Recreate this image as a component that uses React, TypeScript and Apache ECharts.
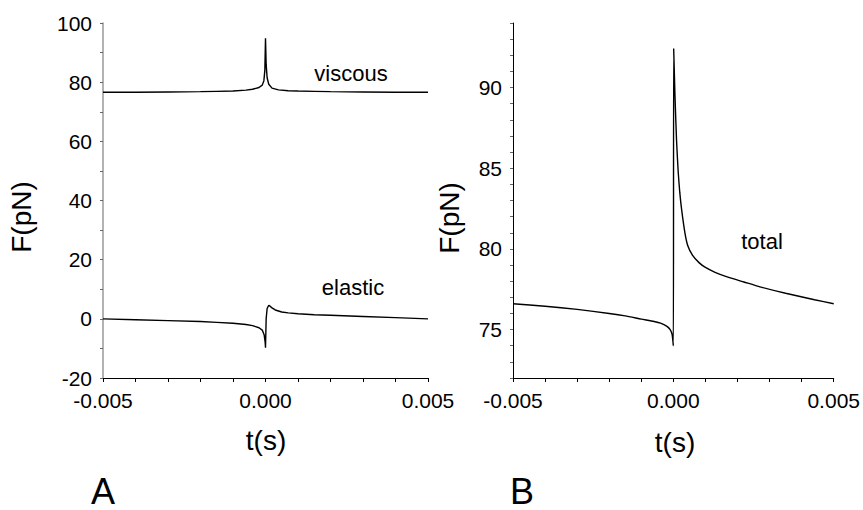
import React, { useEffect, useRef } from "react";
import * as echarts from "echarts";

// Panel A: viscous force
const viscousT = [-0.005, -0.004, -0.003, -0.002, -0.0015, -0.001, -0.0006, -0.0004, -0.0002, -0.0001, -0.00005, -0.00002, 0, 0.00002, 0.00005, 0.0001, 0.0002, 0.0004, 0.0007, 0.001, 0.0015, 0.002, 0.003, 0.004, 0.005];
const viscousF = [76.6, 76.6, 76.7, 76.8, 76.9, 77.0, 77.3, 77.6, 78.2, 79.0, 80.5, 84.0, 94.8, 86.0, 81.5, 79.3, 78.0, 77.4, 77.1, 77.0, 76.9, 76.8, 76.7, 76.6, 76.6];

// Panel A: elastic force
const elasticT = [-0.005, -0.004, -0.003, -0.002, -0.0015, -0.001, -0.0006, -0.0004, -0.0002, -0.0001, -0.00004, -0.00001, 0, 0.00002, 0.00005, 0.0001, 0.00015, 0.0002, 0.0003, 0.0005, 0.0007, 0.001, 0.0015, 0.002, 0.003, 0.004, 0.005];
const elasticF = [0, -0.3, -0.6, -0.9, -1.2, -1.5, -1.9, -2.3, -3.0, -3.8, -5.5, -8.0, -9.8, 0, 3.5, 4.6, 4.2, 3.7, 3.0, 2.3, 2.0, 1.7, 1.4, 1.2, 0.8, 0.4, 0.0];

// Panel B: total force
const totalT = [-0.005, -0.004, -0.003, -0.002, -0.0015, -0.001, -0.0006, -0.0004, -0.0002, -0.0001, -0.00004, 0, 0.00001, 0.00005, 0.0001, 0.00015, 0.0002, 0.00026, 0.00036, 0.00045, 0.0006, 0.0008, 0.001, 0.0013, 0.0017, 0.0022, 0.0027, 0.0035, 0.0044, 0.005];
const totalF = [76.6, 76.45, 76.25, 76.0, 75.85, 75.65, 75.5, 75.4, 75.2, 75.0, 74.7, 74.0, 92.4, 89.5, 86.7, 84.8, 83.5, 82.4, 81.0, 80.2, 79.6, 79.15, 78.85, 78.55, 78.25, 77.95, 77.65, 77.25, 76.85, 76.6];

const FONT = "'Liberation Sans', Arial, Helvetica, sans-serif";

const pairs = (t: number[], f: number[]) => t.map((x, i) => [x, f[i]]);

const xLabel = (v: number) => {
  const k = Math.round(v * 1000);
  if (k % 5 !== 0) return "";
  if (k === 0) return "0.000";
  return (k / 1000).toFixed(3);
};

export default function App() {
  const ref = useRef<HTMLDivElement>(null);
  useEffect(() => {
    if (!ref.current) return;
    const chart = echarts.init(ref.current, null, { renderer: "svg" });
    const xAxisBase = {
      type: "value",
      min: -0.005,
      max: 0.005,
      interval: 0.001,
      splitLine: { show: false },
      axisLine: { show: true, onZero: false, lineStyle: { color: "#000", width: 1 } },
      axisTick: { show: true, length: 4, lineStyle: { color: "#000" } },
      axisLabel: { color: "#000", fontSize: 21, fontFamily: FONT, margin: 12, formatter: xLabel },
    };
    const txt = (text: string, x: number, y: number, size: number, rot = 0) => ({
      type: "text",
      x,
      y,
      rotation: rot,
      style: { text, fontSize: size, fontFamily: FONT, fill: "#000", textAlign: "center", textVerticalAlign: "middle" },
    });
    chart.setOption({
      animation: false,
      backgroundColor: "#fff",
      grid: [
        { left: 103, right: 435, top: 23, bottom: 132 },
        { left: 513, right: 26, top: 23, bottom: 132 },
      ],
      xAxis: [
        { ...xAxisBase, gridIndex: 0 },
        { ...xAxisBase, gridIndex: 1 },
      ],
      yAxis: [
        {
          type: "value",
          gridIndex: 0,
          min: -20,
          max: 100,
          interval: 10,
          splitLine: { show: false },
          axisLine: { show: true, onZero: false, lineStyle: { color: "#999", width: 1.5 } },
          axisTick: { show: true, length: 3, lineStyle: { color: "#666" } },
          axisLabel: {
            color: "#000",
            fontSize: 21,
            fontFamily: FONT,
            margin: 11,
            formatter: (v: number) => (Math.round(v) % 20 === 0 ? String(Math.round(v)) : ""),
          },
        },
        {
          type: "value",
          gridIndex: 1,
          min: 72,
          max: 94,
          interval: 1,
          splitLine: { show: false },
          axisLine: { show: true, onZero: false, lineStyle: { color: "#000", width: 1 } },
          axisTick: { show: true, length: 3, lineStyle: { color: "#666" } },
          axisLabel: {
            color: "#000",
            fontSize: 21,
            fontFamily: FONT,
            margin: 11,
            formatter: (v: number) => (Math.round(v) % 5 === 0 ? String(Math.round(v)) : ""),
          },
        },
      ],
      series: [
        {
          name: "viscous",
          type: "line",
          xAxisIndex: 0,
          yAxisIndex: 0,
          data: pairs(viscousT, viscousF),
          showSymbol: false,
          lineStyle: { color: "#000", width: 1.4 },
        },
        {
          name: "elastic",
          type: "line",
          xAxisIndex: 0,
          yAxisIndex: 0,
          data: pairs(elasticT, elasticF),
          showSymbol: false,
          lineStyle: { color: "#000", width: 1.4 },
        },
        {
          name: "total",
          type: "line",
          xAxisIndex: 1,
          yAxisIndex: 1,
          data: pairs(totalT, totalF),
          showSymbol: false,
          smooth: 0.2,
          lineStyle: { color: "#000", width: 1.4 },
        },
      ],
      graphic: [
        txt("viscous", 351, 73, 22),
        txt("elastic", 353, 287, 22),
        txt("total", 762, 241, 22),
        txt("F(pN)", 21, 217, 28, Math.PI / 2),
        txt("F(pN)", 449, 218, 28, Math.PI / 2),
        txt("t(s)", 266, 440, 28),
        txt("t(s)", 675, 442, 28),
        txt("A", 103, 491, 36),
        txt("B", 522, 491, 36),
      ],
    });
    return () => chart.dispose();
  }, []);
  return <div ref={ref} style={{ position: "fixed", left: 0, top: 0, width: 863, height: 510 }} />;
}
